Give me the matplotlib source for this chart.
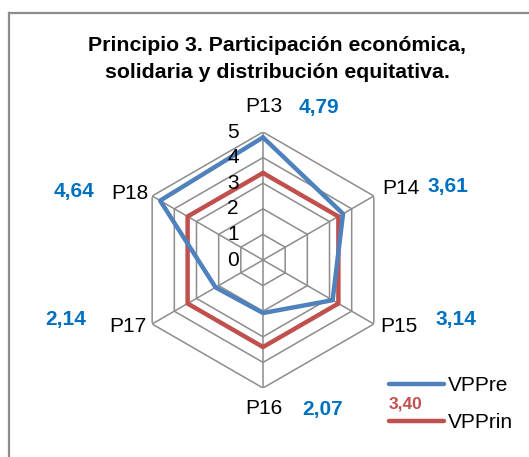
import numpy as np
import matplotlib
matplotlib.use("Agg")
import matplotlib.pyplot as plt
from matplotlib.lines import Line2D
from matplotlib.transforms import offset_copy

plt.rcParams['font.family'] = ['Liberation Sans', 'DejaVu Sans']

# data
categories = ['P13', 'P14', 'P15', 'P16', 'P17', 'P18']
vppre = [4.79, 3.61, 3.14, 2.07, 2.14, 4.64]
vpprin = [3.40, 3.40, 3.40, 3.40, 3.40, 3.40]
rings = [1, 2, 3, 4, 5]
title = 'Principio 3. Participación económica,\nsolidaria y distribución equitativa.'

W, H = 529, 457
fig = plt.figure(figsize=(W / 100, H / 100), dpi=100)

def px(x, y):
    return x / W, 1 - y / H

# chart frame (runs off the right and bottom edge)
fig.add_artist(Line2D([9 / W, 9 / W], [1 - 13 / H, -0.05], color='#8c8c8c', lw=1.6))
fig.add_artist(Line2D([9 / W, 1.05], [1 - 13 / H, 1 - 13 / H], color='#8c8c8c', lw=1.6))

fig.text(*px(277, 59), title, ha='center', va='center', fontsize=15.3,
         fontweight='bold', linespacing=1.48)

cx, cy, R = 263, 260, 128
ax = fig.add_axes([(cx - R) / W, 1 - (cy + R) / H, 2 * R / W, 2 * R / H],
                  projection='polar')
ax.set_theta_offset(np.pi / 2)
ax.set_theta_direction(-1)
ax.set_ylim(0, 5)
ax.grid(False)
ax.set_xticks([])
ax.set_yticks([])
ax.spines['polar'].set_visible(False)
ax.patch.set_alpha(0)

angles = np.linspace(0, 2 * np.pi, len(categories), endpoint=False)
closed = np.append(angles, angles[0])

grid_c = '#8c8c8c'
for r in rings:
    ax.plot(closed, [r] * len(closed), color=grid_c, lw=1.1, zorder=1)
for a in angles:
    ax.plot([a, a], [0, rings[-1]], color=grid_c, lw=1.1, zorder=1)

blue, red = '#4f81bd', '#c0504d'
ax.plot(closed, vppre + vppre[:1], color=blue, lw=3.2, zorder=3, label='VPPre',
        solid_joinstyle='round', solid_capstyle='round')
ax.plot(closed, vpprin + vpprin[:1], color=red, lw=3.2, zorder=2, label='VPPrin',
        solid_joinstyle='round', solid_capstyle='round')

# radial scale labels, sitting left of the top spoke
tick_tr = offset_copy(ax.transData, fig=fig, x=-30, y=0, units='dots')
for v in [0] + rings:
    ax.text(0, v, str(v), transform=tick_tr, ha='center', va='center',
            fontsize=15, color='black')

# category labels
cat_pos = [(264, 107), (401, 188), (399, 327), (264, 408), (128, 327), (130, 193)]
for name, (x, y) in zip(categories, cat_pos):
    fig.text(*px(x, y), name, ha='center', va='center', fontsize=15)

# value labels
val_pos = [(319, 107), (448, 186), (456, 320), (323, 410), (66, 320), (74, 192)]
for v, (x, y) in zip(vppre, val_pos):
    fig.text(*px(x, y), f'{v:.2f}'.replace('.', ','), ha='center', va='center',
             fontsize=15, fontweight='bold', color='#0070c0')
fig.text(*px(406, 404), f'{vpprin[0]:.2f}'.replace('.', ','), ha='center',
         va='center', fontsize=12.5, fontweight='bold', color=red)

fig.legend(loc='center left', bbox_to_anchor=px(389, 404), frameon=False,
           fontsize=15, handlelength=2.65, labelspacing=0.85, handletextpad=0.2,
           borderpad=0, borderaxespad=0)

fig.savefig('out.png', dpi=100)
